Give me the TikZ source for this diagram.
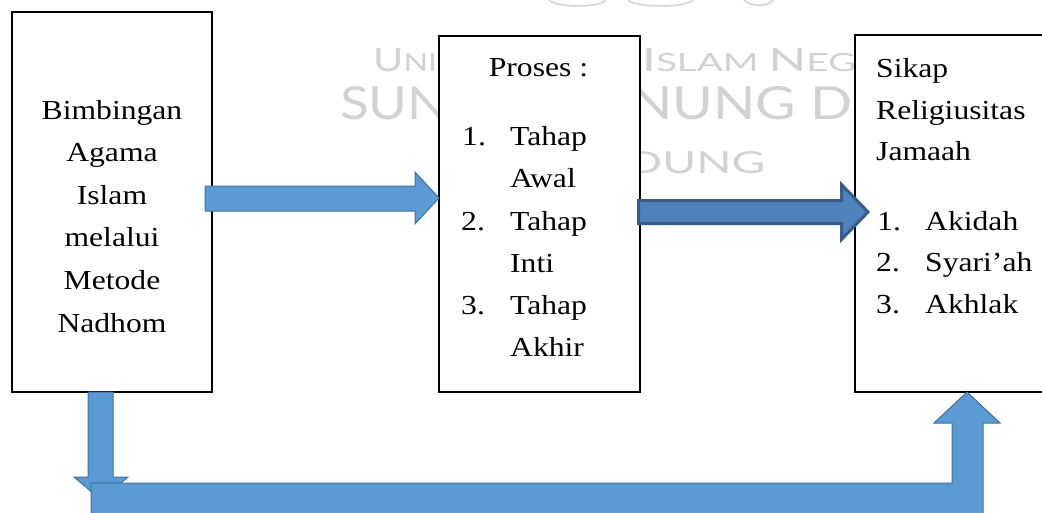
\documentclass[tikz,border=0pt]{standalone}
\usepackage{fontspec}
\usepackage{graphicx}
\newfontfamily\tnr{Liberation Serif}
\newfontfamily\wmfont{Lato}
\definecolor{lightfill}{HTML}{5B9BD5}
\definecolor{lightedge}{HTML}{41719C}
\definecolor{darkfill}{HTML}{4F81BD}
\definecolor{darkedge}{HTML}{385D8A}
\definecolor{wmgray}{HTML}{D2D2D2}
% slightly widened lettering
\newcommand\wide[1]{\scalebox{1.15}[1]{#1}}
% large and small capitals of the background lettering
\newcommand\capA[1]{{\fontsize{32}{32}\selectfont#1}}
\newcommand\capB[1]{{\fontsize{25}{25}\selectfont#1}}

\begin{document}
\begin{tikzpicture}[x=1pt,y=-1pt,
  box/.style={draw=black, line width=1.2pt, fill=white, inner sep=0pt,
    outer sep=0pt, anchor=north west},
  txt/.style={inner sep=0pt, anchor=base, text=black,
    font=\tnr\fontsize{27.5}{33}\selectfont},
  txtl/.style={txt, anchor=base west},
  wmtext/.style={inner sep=0pt, anchor=base west, text=wmgray,
    font=\wmfont\fontsize{40}{40}\selectfont},
  lightarrow/.style={fill=lightfill, draw=lightedge, line width=1pt, line join=miter},
  darkarrow/.style={fill=darkfill, draw=darkedge, line width=3pt, line join=miter}]

\useasboundingbox (0,0) rectangle (1042,512);
\clip (0,0) rectangle (1042,512);
\fill[white] (0,0) rectangle (1042,512);

% background lettering, seen between the boxes
\node[wmtext] (wm1a) at (373,71) {\resizebox{64pt}{23pt}{\capA{U}\capB{NI}}};
\node[wmtext] (wm1b) at (642,71)
  {\resizebox{214pt}{23pt}{\capA{I}\capB{SLAM }\capA{N}\capB{EG}}};
\node[wmtext] (wm2a) at (340,119) {\resizebox{108pt}{33pt}{SUN}};
\node[wmtext] (wm2b) at (630,119) {\resizebox{222pt}{33pt}{NUNG D}};
\node[wmtext] (wm3)  at (627,173) {\resizebox{138pt}{22pt}{DUNG}};
\draw[wmgray, line width=1.5pt] (549,0) .. controls (556,8) and (600,8) .. (606,0);
\draw[wmgray, line width=1.5pt] (628,0) .. controls (636,8) and (686,8) .. (693,0);
\draw[wmgray, line width=1.5pt] (744,0) .. controls (750,7) and (768,7) .. (773,0);

% boxes
\node[box, minimum width=200pt, minimum height=380pt] (b1) at (12,12) {};
\node[box, minimum width=201pt, minimum height=356pt] (b2) at (439,36) {};
\node[box, minimum width=191pt, minimum height=357pt] (b3) at (855,35) {};

% left box text
\node[txt] (l1) at (112,119)   {\wide{Bimbingan}};
\node[txt] (l2) at (112,161.6) {\wide{Agama}};
\node[txt] (l3) at (112,204.2) {\wide{Islam}};
\node[txt] (l4) at (112,246.8) {\wide{melalui}};
\node[txt] (l5) at (112,289.4) {\wide{Metode}};
\node[txt] (l6) at (112,332)   {\wide{Nadhom}};

% middle box text
\node[txt] (m0) at (538.5,76) {\wide{Proses :}};
\node[txtl] (mn1) at (462,145) {\wide{1.}};
\node[txtl] (m1)  at (510,145) {\wide{Tahap}};
\node[txtl] (m1b) at (510,187) {\wide{Awal}};
\node[txtl] (mn2) at (461,230) {\wide{2.}};
\node[txtl] (m2)  at (510,230) {\wide{Tahap}};
\node[txtl] (m2b) at (510,272) {\wide{Inti}};
\node[txtl] (mn3) at (461,314) {\wide{3.}};
\node[txtl] (m3)  at (510,314) {\wide{Tahap}};
\node[txtl] (m3b) at (510,356) {\wide{Akhir}};

% right box text
\node[txtl] (r1) at (876,77)  {\wide{Sikap}};
\node[txtl] (r2) at (876,119) {\wide{Religiusitas}};
\node[txtl] (r3) at (876,160) {\wide{Jamaah}};
\node[txtl] (rn1) at (877,230)   {\wide{1.}};
\node[txtl] (ri1) at (925,230)   {\wide{Akidah}};
\node[txtl] (rn2) at (876,271.5) {\wide{2.}};
\node[txtl] (ri2) at (925,271.5) {\wide{Syari’ah}};
\node[txtl] (rn3) at (876,313)   {\wide{3.}};
\node[txtl] (ri3) at (925,313)   {\wide{Akhlak}};

% block arrows
\draw[lightarrow] (205,186) -- (415,186) -- (415,172) -- (439,198)
  -- (415,224) -- (415,211) -- (205,211) -- cycle;
\draw[darkarrow] (638.5,200.5) -- (841.5,200.5) -- (841.5,184.5) -- (868,212)
  -- (841.5,239.5) -- (841.5,223.5) -- (638.5,223.5) -- cycle;
\draw[lightarrow] (88,392) -- (88,477) -- (74,477) -- (101,500)
  -- (128,477) -- (113,477) -- (113,392) -- cycle;
\draw[lightarrow] (91,518) -- (91,483) -- (952,483) -- (952,423) -- (934,423)
  -- (967,392) -- (1000,423) -- (983,423) -- (983,518) -- cycle;
\end{tikzpicture}
\end{document}
